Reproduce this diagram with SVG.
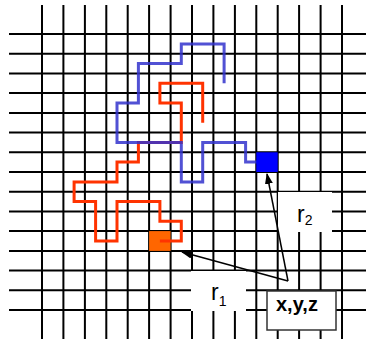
<svg xmlns="http://www.w3.org/2000/svg" width="366" height="343" viewBox="0 0 366 343">
<style>
.g{stroke:#000;stroke-width:2;fill:none}
.chain{fill:none;stroke-width:3;stroke-linejoin:miter;stroke-linecap:butt}
.lbl{font-family:"Liberation Sans",Arial,sans-serif;fill:#000}
.conn{stroke:#000;stroke-width:1.5;fill:none}
</style>
<defs>
<marker id="ah" markerUnits="userSpaceOnUse" markerWidth="11" markerHeight="8" refX="10" refY="4" orient="auto">
<path d="M0,0 L11,4 L0,8 z" fill="#000"/>
</marker>
</defs>
<rect width="366" height="343" fill="#fff"/>
<g id="grid" class="g">
<path d="M42,5V339M63.4,5V339M84.9,5V339M106.3,5V339M127.7,5V339M149.1,5V339M170.6,5V339M192,5V339M213.4,5V339M234.9,5V339M256.3,5V339M277.7,5V339M299.1,5V339M320.6,5V339M342,5V339"/>
<path d="M9,34H366M9,53.7H366M9,73.4H366M9,93.1H366M9,112.9H366M9,132.6H366M9,152.3H366M9,172H366M9,191.7H366M9,211.4H366M9,231.1H366M9,250.9H366M9,270.6H366M9,290.3H366M9,310H366"/>
</g>
<g id="orange-particle">
<rect x="149.1" y="231.1" width="21.5" height="19.8" fill="#ff6600"/>
</g>
<g id="red-chain">
<path class="chain" stroke="#ff3300" d="M202.7,122.7V83.3H159.9V103H181.3V142.4H138.4V162.1H117V181.9H74.1V201.6H95.6V241H117V201.6H159.9V221.3H181.3V241H159.9"/>
</g>
<g id="blue-chain">
<path class="chain" stroke="#3333cc" stroke-opacity="0.85" d="M224.1,83.3V43.9H181.3V63.6H138.4V103H117V142.4H181.3V181.9H202.7V142.4H245.6V162.1H257"/>
</g>
<g id="blue-particle">
<rect x="256.3" y="152.3" width="21.4" height="19.7" fill="#0000ff"/>
</g>
<g id="label-r2">
<rect x="278" y="192" width="54" height="40" fill="#fff"/>
<text class="lbl" x="297" y="222" font-size="23">r<tspan font-size="14" dy="3">2</tspan></text>
</g>
<g id="label-r1">
<rect x="191" y="271" width="55" height="40" fill="#fff"/>
<text class="lbl" x="211" y="300" font-size="23">r<tspan font-size="14" dy="6">1</tspan></text>
</g>
<g id="node-xyz">
<rect x="267" y="291" width="69" height="39" fill="#fff" stroke="#333" stroke-width="1.5"/>
<text class="lbl" x="276" y="311" font-size="20" font-weight="bold">x,y,z</text>
</g>
<g id="connectors">
<line class="conn" x1="288" y1="281" x2="267" y2="174" marker-end="url(#ah)"/>
<line class="conn" x1="288" y1="281" x2="182" y2="252" marker-end="url(#ah)"/>
</g>
</svg>
